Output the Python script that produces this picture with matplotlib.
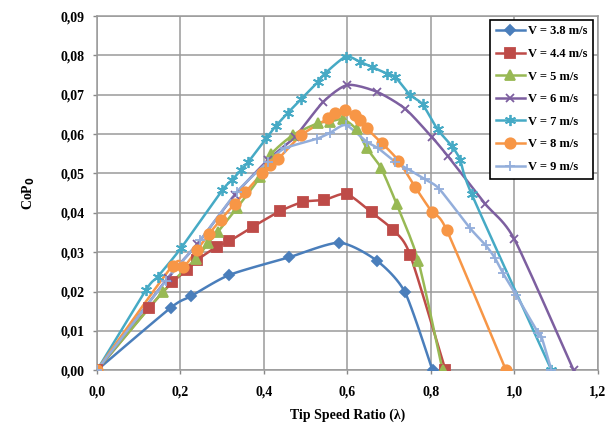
import numpy as np
import matplotlib
matplotlib.use("Agg")
import matplotlib.pyplot as plt

plt.rcParams['font.family'] = ['Liberation Serif', 'DejaVu Serif']
plt.rcParams['font.weight'] = 'bold'

# data
lam_38 = [0, 0.177, 0.225, 0.317, 0.46, 0.581, 0.671, 0.738, 0.804]
cp_38 = [0, 0.0159, 0.0188, 0.0242, 0.0287, 0.0324, 0.0278, 0.0198, 0]

lam_44 = [0, 0.124, 0.18, 0.215, 0.24, 0.287, 0.317, 0.374, 0.438, 0.494, 0.545, 0.598, 0.658, 0.71, 0.75, 0.835]
cp_44 = [0, 0.0158, 0.0223, 0.0254, 0.028, 0.0314, 0.0328, 0.0365, 0.0404, 0.0428, 0.0433, 0.0448, 0.0401, 0.0356, 0.0294, 0]

lam_5 = [0, 0.157, 0.237, 0.267, 0.29, 0.335, 0.39, 0.418, 0.47, 0.53, 0.558, 0.59, 0.622, 0.646, 0.68, 0.718, 0.77, 0.828]
cp_5 = [0, 0.0198, 0.0283, 0.0324, 0.0352, 0.0412, 0.049, 0.055, 0.0598, 0.0628, 0.0632, 0.0638, 0.0612, 0.0565, 0.0515, 0.0422, 0.0277, 0]

lam_6 = [0, 0.17, 0.24, 0.33, 0.41, 0.474, 0.542, 0.6, 0.67, 0.738, 0.802, 0.84, 0.93, 1.0, 1.142]
cp_6 = [0, 0.0235, 0.032, 0.0445, 0.0535, 0.0593, 0.0682, 0.0725, 0.0708, 0.0665, 0.0593, 0.0545, 0.0423, 0.0333, 0]

lam_7 = [0, 0.118, 0.145, 0.201, 0.3, 0.323, 0.345, 0.363, 0.406, 0.428, 0.458, 0.49, 0.53, 0.546, 0.596,
         0.63, 0.658, 0.694, 0.714, 0.75, 0.78, 0.816, 0.85, 0.87, 0.898, 1.089]
cp_7 = [0, 0.0205, 0.0237, 0.031, 0.0457, 0.0483, 0.0509, 0.053, 0.059, 0.062, 0.0655, 0.069, 0.0733, 0.0754, 0.0797,
        0.0784, 0.0771, 0.0754, 0.0746, 0.07, 0.0676, 0.0612, 0.057, 0.0535, 0.0447, 0]

lam_8 = [0, 0.181, 0.207, 0.239, 0.269, 0.296, 0.33, 0.355, 0.395, 0.414, 0.434, 0.49, 0.554, 0.57, 0.594,
         0.618, 0.63, 0.646, 0.682, 0.722, 0.762, 0.802, 0.838, 0.98]
cp_8 = [0, 0.0266, 0.0262, 0.0305, 0.0347, 0.0382, 0.0423, 0.0452, 0.050, 0.0522, 0.0537, 0.0598, 0.064, 0.0653, 0.0661,
        0.0648, 0.0636, 0.0615, 0.0578, 0.0533, 0.0466, 0.0403, 0.0356, 0]

lam_9 = [0, 0.165, 0.247, 0.335, 0.41, 0.45, 0.526, 0.558, 0.596, 0.646, 0.674, 0.714, 0.744, 0.786, 0.82,
         0.893, 0.931, 0.953, 0.973, 1.005, 1.057, 1.065, 1.089]
cp_9 = [0, 0.0227, 0.033, 0.0453, 0.053, 0.0564, 0.0588, 0.0603, 0.0623, 0.0581, 0.0564, 0.053, 0.0512, 0.0485, 0.0461,
        0.0362, 0.0318, 0.0286, 0.0246, 0.019, 0.0095, 0.0085, 0]

labels = ["V = 3.8 m/s", "V = 4.4 m/s", "V = 5 m/s", "V = 6 m/s", "V = 7 m/s", "V = 8 m/s", "V = 9 m/s"]
colors = ["#4A7EBB", "#BE4B48", "#98B954", "#7D5FA0", "#46AAC5", "#F79646", "#93AEDB"]
markers = ["D", "s", "^", "x", (6, 2, 0), "o", "+"]
msizes = [5.5, 7.5, 6.5, 6, 8, 7.5, 7.5]


def smooth(x, y, n=12):
    # catmull-rom style path through the points, like excel's smoothed lines
    x = np.asarray(x, float); y = np.asarray(y, float)
    px = np.concatenate([[x[0]], x, [x[-1]]])
    py = np.concatenate([[y[0]], y, [y[-1]]])
    xs, ys = [], []
    t = np.linspace(0, 1, n, endpoint=False)
    for i in range(1, len(px) - 2):
        for p, out in ((px, xs), (py, ys)):
            p0, p1, p2, p3 = p[i - 1], p[i], p[i + 1], p[i + 2]
            m1 = (p2 - p0) / 2 * 0.7
            m2 = (p3 - p1) / 2 * 0.7
            h00 = 2*t**3 - 3*t**2 + 1; h10 = t**3 - 2*t**2 + t
            h01 = -2*t**3 + 3*t**2; h11 = t**3 - t**2
            out.extend(h00*p1 + h10*m1 + h01*p2 + h11*m2)
    xs.append(x[-1]); ys.append(y[-1])
    return np.array(xs), np.maximum(np.array(ys), 0)


series = [(lam_38, cp_38), (lam_44, cp_44), (lam_5, cp_5), (lam_6, cp_6),
          (lam_7, cp_7), (lam_8, cp_8), (lam_9, cp_9)]

fig = plt.figure(figsize=(6.1, 4.25), dpi=100)
ax = fig.add_axes([0.159, 0.129, 0.821, 0.833])

for (lx, cy), lab, c, m, ms in zip(series, labels, colors, markers, msizes):
    sx, sy = smooth(lx, cy)
    ax.plot(sx, sy, color=c, lw=1.8, zorder=3)
    ax.plot(lx, cy, ls='none', marker=m, color=c, ms=ms, mew=1.3, zorder=4)
    ax.plot([], [], color=c, lw=1.8, marker=m, ms=ms, mew=1.3, label=lab)

ax.set_xlim(0, 1.2)
ax.set_ylim(0, 0.09)
ax.set_xticks(np.arange(0, 1.21, 0.2))
ax.set_yticks(np.arange(0, 0.091, 0.01))
ax.set_xticklabels([f"{v:.1f}".replace('.', ',') for v in np.arange(0, 1.21, 0.2)])
ax.set_yticklabels([f"{v:.2f}".replace('.', ',') for v in np.arange(0, 0.091, 0.01)])
ax.tick_params(labelsize=10, length=3, color='#888888', width=1)
ax.tick_params(axis='x', pad=8)
ax.tick_params(axis='y', pad=6)
ax.grid(True, color='#9a9a9a', lw=1.1)
ax.set_axisbelow(True)
for s in ax.spines.values():
    s.set_color('#9a9a9a')
    s.set_linewidth(1.1)

ax.set_ylabel("CoP$_\\mathbf{0}$", fontsize=10, fontweight='bold', labelpad=17)
ax.set_xlabel("Tip Speed Ratio (λ)", fontsize=10, fontweight='bold', labelpad=7)

leg = ax.legend(loc='upper right', bbox_to_anchor=(0.99, 0.99), fontsize=9, frameon=True,
                fancybox=False, edgecolor='black', framealpha=1, handlelength=2.3,
                labelspacing=0.85, borderpad=0.45, handletextpad=0.25, borderaxespad=0)
leg.get_frame().set_linewidth(1.2)

fig.savefig("out.png", dpi=100)
